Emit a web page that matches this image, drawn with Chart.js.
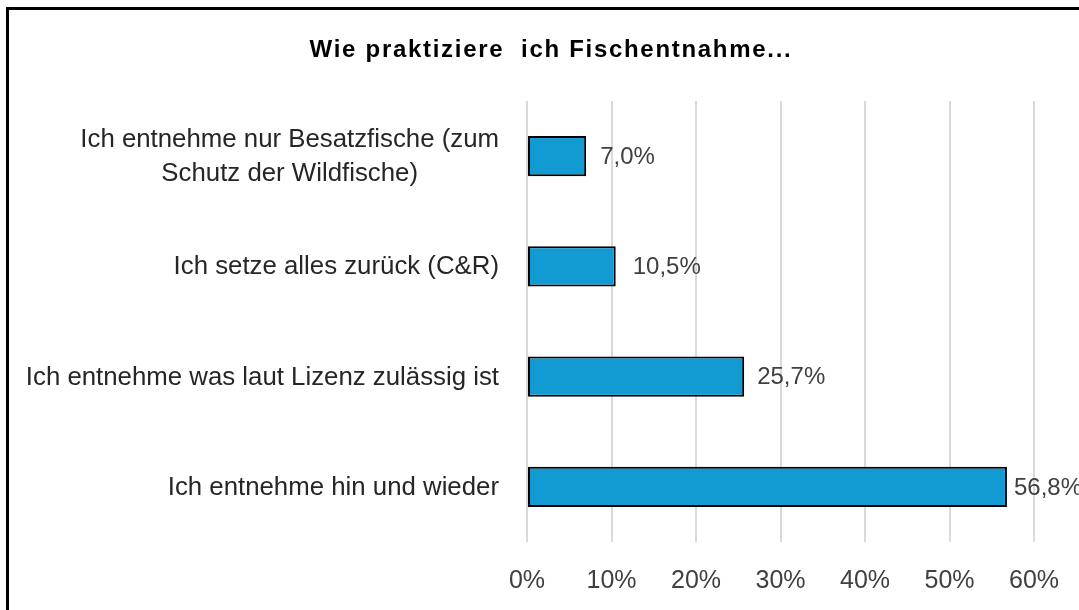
<!DOCTYPE html>
<html>
<head>
<meta charset="utf-8">
<script src="https://cdn.jsdelivr.net/npm/chart.js@4"></script>
<style>
  html, body { margin: 0; padding: 0; background: #fff; overflow: hidden; }
  #wrap { position: absolute; left: 0; top: 0; width: 1079px; height: 610px; }
  #frame { position: absolute; left: 6px; top: 7px; width: 1100px; height: 650px;
           border-left: 3px solid #000; border-top: 3px solid #000; pointer-events: none; }
</style>
</head>
<body>
<div id="wrap"><canvas id="chart" width="1079" height="610"></canvas></div>
<div id="frame"></div>
<script>
// Antworten (von oben nach unten)
var titel = 'Wie praktiziere  ich Fischentnahme...';
var kategorien = [
  ['Ich entnehme nur Besatzfische (zum', 'Schutz der Wildfische)'],
  'Ich setze alles zurück (C&R)',
  'Ich entnehme was laut Lizenz zulässig ist',
  'Ich entnehme hin und wieder'
];
var anteile = [7.0, 10.5, 25.7, 56.8];
var achseMax = 60;
var achseSchritt = 10;

var schrift = '"Liberation Sans", Arial, sans-serif';

// Titel oben (etwas gesperrt, wie im Original)
var titelPlugin = {
  id: 'titelPlugin',
  afterDraw: function (chart) {
    var ctx = chart.ctx;
    ctx.save();
    ctx.font = 'bold 24px ' + schrift;
    ctx.letterSpacing = '1.7px';
    ctx.fillStyle = '#000000';
    ctx.textAlign = 'center';
    ctx.textBaseline = 'alphabetic';
    ctx.fillText(titel, 551, 57);
    ctx.restore();
  }
};

// Kategorien links: mehrzeilige Beschriftung als zentrierter Block, rechtsbündig an der Achse
var kategorieLabels = {
  id: 'kategorieLabels',
  afterDraw: function (chart) {
    var ctx = chart.ctx;
    var yScale = chart.scales.y;
    var rechts = chart.chartArea.left - 28;
    var zeilenHoehe = 34;
    ctx.save();
    ctx.font = '25.8px ' + schrift;
    ctx.fillStyle = '#262626';
    ctx.textBaseline = 'middle';
    ctx.textAlign = 'center';
    kategorien.forEach(function (lab, i) {
      var zeilen = Array.isArray(lab) ? lab : [lab];
      var breite = Math.max.apply(null, zeilen.map(function (z) { return ctx.measureText(z).width; }));
      var mitteX = rechts - breite / 2;
      var y0 = yScale.getPixelForTick(i) - (zeilen.length - 1) * zeilenHoehe / 2 + 1;
      zeilen.forEach(function (z, k) {
        ctx.fillText(z, mitteX, y0 + k * zeilenHoehe);
      });
    });
    ctx.restore();
  }
};

// Werte rechts neben die Balken schreiben
var wertLabels = {
  id: 'wertLabels',
  afterDatasetsDraw: function (chart) {
    var ctx = chart.ctx;
    var meta = chart.getDatasetMeta(0);
    var abstand = [14, 17, 13, 7];
    ctx.save();
    ctx.font = '24px ' + schrift;
    ctx.fillStyle = '#404040';
    ctx.textAlign = 'left';
    ctx.textBaseline = 'middle';
    meta.data.forEach(function (bar, i) {
      var txt = anteile[i].toFixed(1).replace('.', ',') + '%';
      ctx.fillText(txt, bar.x + abstand[i], bar.y + 1);
    });
    ctx.restore();
  }
};

var ctx = document.getElementById('chart').getContext('2d');
var grafik = new Chart(ctx, {
  type: 'bar',
  data: {
    labels: kategorien,
    datasets: [{
      label: 'Anteil',
      data: anteile,
      backgroundColor: '#129bd3',
      borderColor: '#000000',
      borderWidth: 2,
      borderSkipped: false,
      barPercentage: 0.363,
      categoryPercentage: 1.0
    }]
  },
  options: {
    indexAxis: 'y',
    responsive: false,
    animation: false,
    layout: { padding: { top: 101, right: 45, bottom: 0, left: 68 } },
    plugins: {
      legend: { display: false },
      tooltip: { enabled: false },
      title: { display: false }
    },
    scales: {
      x: {
        min: 0,
        max: achseMax,
        ticks: {
          stepSize: achseSchritt,
          padding: 24,
          color: '#404040',
          font: { family: schrift, size: 25 },
          callback: function (v) { return v + '%'; }
        },
        grid: { color: '#d9d9d9', lineWidth: 2, drawTicks: false },
        border: { display: false },
        afterFit: function (s) { s.height = 68; s.paddingLeft = 0; s.paddingRight = 0; }
      },
      y: {
        ticks: { display: false },
        grid: { display: false, drawTicks: false },
        border: { display: false },
        afterFit: function (s) { s.width = 527 - 68; }
      }
    }
  },
  plugins: [wertLabels, kategorieLabels, titelPlugin]
});
</script>
</body>
</html>
